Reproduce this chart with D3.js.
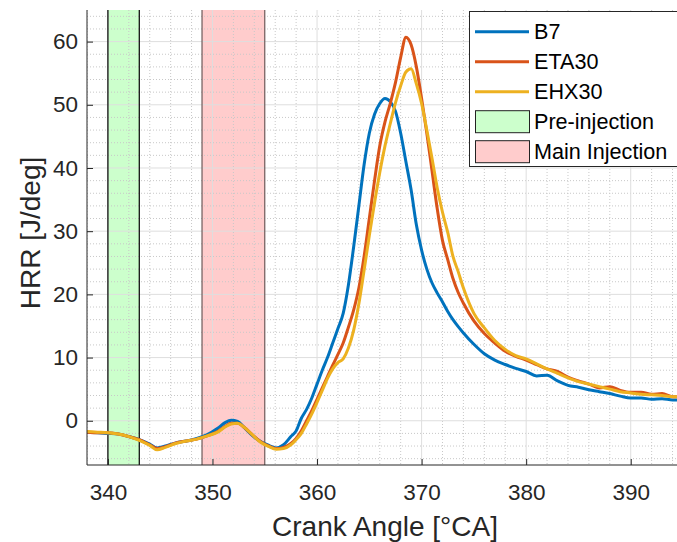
<!DOCTYPE html>
<html>
<head>
<meta charset="utf-8">
<script src="https://cdn.jsdelivr.net/npm/d3@7"></script>
<style>
  html, body { margin: 0; padding: 0; background: #fff; }
  svg { display: block; font-family: "Liberation Sans", Arial, Helvetica, sans-serif; }
</style>
</head>
<body>
<svg id="chart" width="677" height="542"></svg>
<script>
// Crank angle samples [°CA] shared by all three fuels
const angles = [338, 339, 340, 341, 342, 343, 344, 344.7, 345.5, 346.5, 347.5, 348.5, 349.5, 350.5,
  351.2, 351.8, 352.4, 353, 353.8, 354.6, 355.4, 356.1, 356.8, 357.5,
  358, 358.5, 359, 359.5, 360, 360.5, 361, 361.5, 362, 362.5, 363, 363.5, 364, 364.5, 365, 365.5,
  366, 366.5, 367, 367.5, 368, 368.5, 369, 369.5, 370, 370.5, 371, 371.5, 372, 372.5, 373, 373.5, 374,
  375, 376, 377, 378, 379, 380, 381, 382, 383, 384, 385, 386, 387, 388, 389, 390, 391, 392, 393, 394, 395];

// Heat release rate [J/deg]
const hrrB7 = [-1.8, -1.9, -2.0, -2.1, -2.5, -3.0, -3.7, -4.3, -4.0, -3.5, -3.2, -2.8, -2.2, -1.2,
  -0.3, 0.1, -0.1, -1.0, -2.3, -3.3, -3.9, -4.3, -3.8, -2.5,
  -1.6, 0.4, 1.8, 3.6, 5.8, 8.0, 10.0, 12.3, 14.6, 17.0, 21.5, 27.5, 34.0, 40.5, 45.5, 48.5,
  50.2, 51.0, 50.5, 49.0, 45.5, 41.0, 36.5, 31.0, 27.0, 24.0, 21.8, 20.2, 18.8, 17.3, 16.0, 14.9, 13.9,
  12.1, 10.6, 9.6, 8.9, 8.3, 7.8, 7.1, 7.2, 6.3, 5.6, 5.3, 4.9, 4.6, 4.3, 3.9, 3.6, 3.6, 3.4, 3.5, 3.3, 3.3];

const hrrETA30 = [-1.8, -1.9, -1.9, -2.1, -2.5, -3.0, -3.8, -4.4, -4.1, -3.5, -3.2, -2.9, -2.4, -1.7,
  -0.9, -0.4, -0.4, -1.0, -2.2, -3.3, -4.0, -4.4, -4.2, -3.6,
  -2.8, -1.6, 0.0, 1.6, 3.4, 5.2, 7.0, 8.8, 10.5, 12.3, 14.8, 17.5, 21.0, 26.0, 32.0, 38.0,
  43.5, 47.3, 50.2, 53.5, 57.5, 60.7, 59.5, 56.0, 51.0, 45.5, 39.5, 33.5, 28.5, 25.5, 22.5, 20.3, 18.6,
  15.8, 13.8, 12.3, 11.0, 10.2, 9.6, 8.9, 8.2, 7.8, 6.9, 6.3, 5.8, 5.2, 5.4, 4.8, 4.5, 4.5, 4.2, 4.3, 3.8, 3.8];

const hrrEHX30 = [-1.7, -1.8, -1.9, -2.1, -2.5, -3.1, -3.9, -4.6, -4.2, -3.6, -3.2, -2.9, -2.4, -1.8,
  -1.0, -0.5, -0.4, -1.0, -2.2, -3.4, -4.1, -4.5, -4.4, -3.8,
  -3.0, -2.0, -0.5, 1.1, 2.9, 4.8, 6.7, 8.2, 9.2, 9.8, 11.5, 14.3, 18.5, 23.8, 29.3, 34.5,
  39.3, 43.5, 47.0, 50.3, 53.0, 55.2, 55.7, 53.3, 50.2, 46.0, 41.5, 36.8, 33.0, 29.8, 26.0, 23.6, 21.0,
  17.0, 14.7, 12.7, 11.3, 10.3, 9.8, 9.0, 8.2, 7.5, 6.8, 6.2, 5.8, 5.4, 5.0, 4.6, 4.4, 4.2, 4.1, 4.0, 3.8, 3.8];

const seriesNames = ["B7", "ETA30", "EHX30"];
const seriesColors = ["#0072BD", "#D95319", "#EDB120"];

// Injection windows [°CA]
const preInjection = [340, 343];
const mainInjection = [349, 355];

const xTicks = [340, 350, 360, 370, 380, 390];
const yTicks = [0, 10, 20, 30, 40, 50, 60];
const xDomain = [338, 395];
const yDomain = [-7, 65];

const svg = d3.select("#chart");
const plotL = 87, plotR = 683, plotT = 10, plotB = 465;
const fontStack = "'Liberation Sans', Arial, Helvetica, sans-serif";

const x = d3.scaleLinear().domain(xDomain).range([plotL, plotR]);
const y = d3.scaleLinear().domain(yDomain).range([plotB, plotT]);

svg.append("defs").append("clipPath").attr("id", "plotArea")
  .append("rect").attr("x", plotL).attr("y", plotT).attr("width", plotR - plotL).attr("height", plotB - plotT);

// Injection bands (translucent fill)
const bands = [
  { r: preInjection, fill: "#00ff00", edge: "#000000" },
  { r: mainInjection, fill: "#ff0000", edge: "#6e5a5a" }
];
svg.append("g").selectAll("rect").data(bands).join("rect")
  .attr("x", d => x(d.r[0])).attr("y", plotT)
  .attr("width", d => x(d.r[1]) - x(d.r[0])).attr("height", plotB - plotT)
  .attr("fill", d => d.fill).attr("fill-opacity", 0.2);

// Minor grid (dotted)
const minorX = d3.range(338, 396, 2).filter(v => v % 10 !== 0);
const minorY = d3.range(-6, 65, 2).filter(v => v % 10 !== 0);
const grid = svg.append("g").attr("clip-path", "url(#plotArea)");
grid.selectAll(".mx").data(minorX).join("line")
  .attr("x1", d => x(d)).attr("x2", d => x(d)).attr("y1", plotT).attr("y2", plotB)
  .attr("stroke", "#c8c8c8").attr("stroke-width", 1).attr("stroke-dasharray", "1,2");
grid.selectAll(".my").data(minorY).join("line")
  .attr("x1", plotL).attr("x2", plotR).attr("y1", d => y(d)).attr("y2", d => y(d))
  .attr("stroke", "#c8c8c8").attr("stroke-width", 1).attr("stroke-dasharray", "1,2");
// Major grid
grid.selectAll(".gx").data(xTicks).join("line")
  .attr("x1", d => x(d)).attr("x2", d => x(d)).attr("y1", plotT).attr("y2", plotB)
  .attr("stroke", "#dedede").attr("stroke-width", 1);
grid.selectAll(".gy").data(yTicks).join("line")
  .attr("x1", plotL).attr("x2", plotR).attr("y1", d => y(d)).attr("y2", d => y(d))
  .attr("stroke", "#dedede").attr("stroke-width", 1);

// Band edges
svg.append("g").selectAll("g").data(bands).join("g").each(function (d) {
  d3.select(this).selectAll("line").data(d.r).join("line")
    .attr("x1", v => x(v)).attr("x2", v => x(v)).attr("y1", plotT).attr("y2", plotB)
    .attr("stroke", d.edge).attr("stroke-width", 1.2);
});

// HRR curves
const seriesValues = [hrrB7, hrrETA30, hrrEHX30];
const line = d3.line().x(d => x(d[0])).y(d => y(d[1])).curve(d3.curveMonotoneX);
svg.append("g").attr("clip-path", "url(#plotArea)")
  .selectAll("path").data(seriesValues).join("path")
  .attr("d", vals => line(angles.map((a, i) => [a, vals[i]])))
  .attr("fill", "none")
  .attr("stroke", (d, i) => seriesColors[i])
  .attr("stroke-width", 3)
  .attr("stroke-linejoin", "round");

// Axes
const axisColor = "#262626";
const xAxis = svg.append("g").attr("transform", `translate(0,${plotB})`)
  .call(d3.axisBottom(x).tickValues(xTicks).tickSizeInner(-6).tickSizeOuter(0).tickPadding(19));
const yAxis = svg.append("g").attr("transform", `translate(${plotL},0)`)
  .call(d3.axisLeft(y).tickValues(yTicks).tickSizeInner(-6).tickSizeOuter(0).tickPadding(9));
[xAxis, yAxis].forEach(g => {
  g.select(".domain").remove();
  g.selectAll(".tick line").attr("stroke", axisColor);
  g.selectAll(".tick text").attr("fill", axisColor).attr("font-size", 22.5)
    .attr("font-family", fontStack);
});
svg.append("line").attr("x1", plotL).attr("x2", plotL).attr("y1", plotT).attr("y2", plotB)
  .attr("stroke", axisColor).attr("stroke-width", 1);
svg.append("line").attr("x1", plotL).attr("x2", plotR).attr("y1", plotB).attr("y2", plotB)
  .attr("stroke", axisColor).attr("stroke-width", 1);

// Axis titles
svg.append("text").attr("x", (plotL + plotR) / 2).attr("y", 536)
  .attr("text-anchor", "middle").attr("font-size", 28).attr("fill", axisColor)
  .text("Crank Angle [°CA]");
svg.append("text").attr("transform", `translate(40,233) rotate(-90)`)
  .attr("text-anchor", "middle").attr("font-size", 28).attr("fill", axisColor)
  .text("HRR [J/deg]");

// Legend
const legend = svg.append("g");
legend.append("rect").attr("x", 469.5).attr("y", 11.5).attr("width", 220).attr("height", 155)
  .attr("fill", "#fff").attr("stroke", axisColor).attr("stroke-width", 1);
const rowY = i => 31.7 + i * 30;
seriesNames.forEach((name, i) => {
  legend.append("line").attr("x1", 475).attr("x2", 529).attr("y1", rowY(i)).attr("y2", rowY(i))
    .attr("stroke", seriesColors[i]).attr("stroke-width", 3);
  legend.append("text").attr("x", 534).attr("y", rowY(i)).attr("dy", "0.35em")
    .attr("font-size", 21.6).attr("fill", "#000").text(name);
});
const patchItems = [
  { name: "Pre-injection", fill: "rgb(204,255,204)" },
  { name: "Main Injection", fill: "rgb(255,204,204)" }
];
patchItems.forEach((p, j) => {
  const cy = rowY(3 + j);
  legend.append("rect").attr("x", 475.5).attr("y", cy - 11).attr("width", 54).attr("height", 22)
    .attr("fill", p.fill).attr("stroke", "#222").attr("stroke-width", 1);
  legend.append("text").attr("x", 534).attr("y", cy).attr("dy", "0.35em")
    .attr("font-size", 21.6).attr("fill", "#000").text(p.name);
});
</script>
</body>
</html>
